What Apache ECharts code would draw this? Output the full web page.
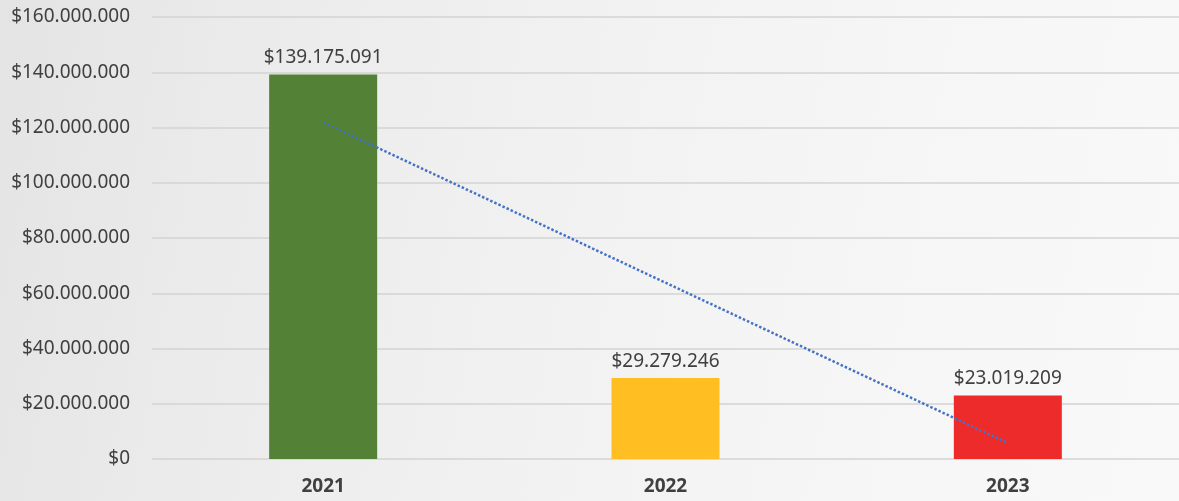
<!DOCTYPE html>
<html>
<head>
<meta charset="utf-8">
<script src="https://cdn.jsdelivr.net/npm/echarts@6/dist/echarts.min.js"></script>
<style>
html,body{margin:0;padding:0;}
#c{width:1179px;height:501px;background:linear-gradient(100deg,#e4e4e4 0%,#ebebeb 20%,#f2f2f2 50%,#f6f6f6 75%,#f9f9f9 100%);}
</style>
</head>
<body>
<div id="c"></div>
<script>
const categories = ['2021', '2022', '2023'];
const values = [139175091, 29279246, 23019209];
const barColors = ['#538135', '#FFBF22', '#EE2B2B'];
const trendValues = [121900000, 63820000, 5750000];
const yTicks = [0, 20000000, 40000000, 60000000, 80000000, 100000000, 120000000, 140000000, 160000000];

function fmt(v) {
  return '$' + Math.round(v).toString().replace(/\B(?=(\d{3})+(?!\d))/g, '.');
}

const chart = echarts.init(document.getElementById('c'), null, {renderer: 'canvas'});
chart.setOption({
  backgroundColor: 'transparent',
  animation: false,
  grid: {left: 152, right: -5, top: 17, bottom: 42, containLabel: false},
  xAxis: {
    type: 'category',
    data: categories,
    axisLine: {show: false},
    axisTick: {show: false},
    axisLabel: {color: '#404040', fontFamily: 'Noto Sans', fontSize: 19, fontWeight: 'bold', margin: 18}
  },
  yAxis: {
    type: 'value',
    min: yTicks[0],
    max: yTicks[yTicks.length - 1],
    interval: yTicks[1] - yTicks[0],
    axisLine: {show: false},
    axisTick: {show: false},
    splitLine: {lineStyle: {color: '#d3d3d3', width: 1.5}},
    axisLabel: {color: '#404040', fontFamily: 'Noto Sans', fontSize: 19, margin: 22, formatter: fmt}
  },
  series: [
    {
      type: 'bar',
      barWidth: 108,
      data: values.map((v, i) => ({value: v, itemStyle: {color: barColors[i]}})),
      label: {show: true, position: 'top', distance: 7, color: '#404040', fontFamily: 'Noto Sans', fontSize: 19, formatter: p => fmt(p.value)}
    },
    {
      type: 'line',
      data: trendValues,
      symbol: 'none',
      z: 5,
      lineStyle: {color: '#4472C4', width: 2.5, type: [2.5, 2]}
    }
  ]
});
</script>
</body>
</html>
